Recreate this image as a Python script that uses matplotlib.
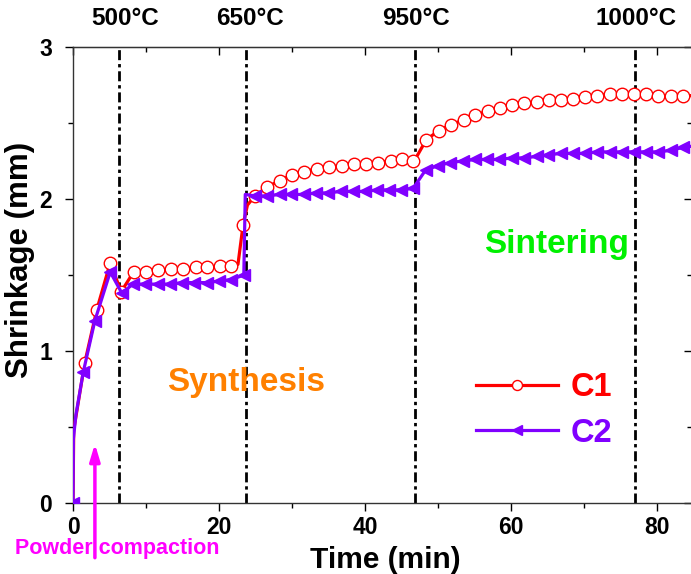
import matplotlib
matplotlib.use("Agg")
import matplotlib.pyplot as plt

plt.rcParams['font.family'] = ['Liberation Sans', 'DejaVu Sans']
plt.rcParams['font.weight'] = 'bold'

# ---- data ----
t_c1 = [0, 0.1, 1.6, 3.25, 5.1, 6.6, 8.3, 10.0, 11.7, 13.4, 15.1, 16.8, 18.4, 20.1, 21.7,
        22.6, 23.3, 23.9, 24.9, 26.6, 28.3, 30.0, 31.7, 33.4, 35.1, 36.8, 38.5, 40.1, 41.8,
        43.5, 45.1, 46.6, 47.1, 48.4, 50.1, 51.8, 53.5, 55.1, 56.8, 58.5, 60.2, 61.8, 63.5,
        65.2, 66.8, 68.5, 70.2, 71.8, 73.5, 75.2, 76.9, 78.5, 80.2, 81.9, 83.6, 85.2]
y_c1 = [0, 0.48, 0.92, 1.27, 1.58, 1.39, 1.52, 1.52, 1.53, 1.54, 1.54, 1.55, 1.55, 1.56, 1.56,
        1.57, 1.83, 1.96, 2.02, 2.08, 2.12, 2.16, 2.18, 2.20, 2.21, 2.22, 2.23, 2.23, 2.24,
        2.25, 2.26, 2.25, 2.28, 2.39, 2.45, 2.49, 2.52, 2.55, 2.58, 2.60, 2.62, 2.63, 2.64,
        2.65, 2.65, 2.66, 2.67, 2.68, 2.69, 2.69, 2.69, 2.69, 2.68, 2.68, 2.68, 2.68]
nomark_c1 = [0, 1, 15, 17, 32, 55]

t_c2 = [0, 0.05, 0.4, 1.4, 3.0, 5.1, 6.7, 8.2, 9.9, 11.6, 13.3, 15.0, 16.6, 18.3, 20.0, 21.7,
        23.4, 23.6, 25.0, 26.6, 28.3, 29.9, 31.6, 33.3, 35.0, 36.7, 38.3, 40.0, 41.7, 43.3,
        45.0, 46.6, 48.3, 50.0, 51.7, 53.4, 55.1, 56.7, 58.4, 60.1, 61.8, 63.5, 65.1, 66.8,
        68.5, 70.2, 71.8, 73.5, 75.2, 76.8, 78.5, 80.2, 81.9, 83.6, 85.2]
y_c2 = [0, 0.42, 0.58, 0.86, 1.20, 1.52, 1.38, 1.44, 1.44, 1.44, 1.44, 1.45, 1.45, 1.45, 1.46, 1.47,
        1.50, 2.03, 2.02, 2.02, 2.03, 2.03, 2.03, 2.04, 2.04, 2.05, 2.05, 2.05, 2.06, 2.06,
        2.06, 2.07, 2.19, 2.22, 2.24, 2.25, 2.26, 2.26, 2.26, 2.27, 2.27, 2.28, 2.29, 2.30,
        2.30, 2.30, 2.31, 2.31, 2.31, 2.31, 2.31, 2.31, 2.32, 2.34, 2.35]
nomark_c2 = [1, 2, 17, 54]

stage_times = [6.3, 23.7, 46.8, 77.0]
temp_labels = ["500°C", "650°C", "950°C", "1000°C"]
temp_label_x = [7.1, 24.3, 47.0, 77.1]

series_names = ["C1", "C2"]
c1_color = "#FF0000"
c2_color = "#8000FF"

# ---- figure ----
fig = plt.figure(figsize=(6.91, 5.74), dpi=100)
ax = fig.add_axes([73/691, 1 - 503/574, 619/691, (503 - 47)/574])

mk1 = [i for i in range(len(t_c1)) if i not in nomark_c1]
mk2 = [i for i in range(len(t_c2)) if i not in nomark_c2]

for xv in stage_times:
    ax.axvline(xv, color='black', lw=2.0, linestyle=(0, (3.6, 1.4, 1.2, 1.4)), zorder=1)

l1, = ax.plot(t_c1, y_c1, color=c1_color, lw=2.3, marker='o', markersize=9,
              markerfacecolor='white', markeredgecolor=c1_color, markeredgewidth=1.0,
              markevery=mk1, zorder=3)
l2, = ax.plot(t_c2, y_c2, color=c2_color, lw=2.3, marker='<', markersize=9,
              markerfacecolor=c2_color, markeredgecolor=c2_color,
              markevery=mk2, zorder=4)

ax.set_xlim(0, 84.8)
ax.set_ylim(0, 3)
ax.set_xticks([0, 20, 40, 60, 80])
ax.set_xticks([10, 30, 50, 70], minor=True)
ax.set_yticks([0, 1, 2, 3])
ax.set_yticks([0.5, 1.5, 2.5], minor=True)
ax.tick_params(which='both', direction='out', labelsize=16.5, width=1.0)
ax.tick_params(which='major', length=6)
ax.tick_params(which='minor', length=3.5)
ax.tick_params(axis='y', pad=9)
ax.tick_params(axis='x', pad=3)
for lab in ax.get_xticklabels() + ax.get_yticklabels():
    lab.set_fontweight('bold')
for s in ax.spines.values():
    s.set_linewidth(1.0)
    s.set_color('#333333')

sx = ax.secondary_xaxis('top')
sx.set_xticks([0, 20, 40, 60, 80])
sx.set_xticks([10, 30, 50, 70], minor=True)
sx.tick_params(which='both', direction='in', labeltop=False, width=1.0)
sx.tick_params(which='major', length=6)
sx.tick_params(which='minor', length=3.5)
sy = ax.secondary_yaxis('right')
sy.set_yticks([0, 1, 2, 3])
sy.set_yticks([0.5, 1.5, 2.5], minor=True)
sy.tick_params(which='both', direction='in', labelright=False, width=1.0)
sy.tick_params(which='major', length=6)
sy.tick_params(which='minor', length=3.5)

ax.set_xlabel("Time (min)", fontsize=21.5, fontweight='bold')
ax.set_ylabel("Shrinkage (mm)", fontsize=22.5, fontweight='bold')
ax.yaxis.set_label_coords(-0.062, 0.533)
ax.xaxis.set_label_coords(0.505, -0.095)

for lab, xv in zip(temp_labels, temp_label_x):
    ax.text(xv, 3.185, lab, ha='center', va='center', fontsize=17.5, fontweight='bold',
            clip_on=False)

ax.text(23.7, 0.79, "Synthesis", color='#FF8000', fontsize=24, fontweight='bold',
        ha='center', va='center')
ax.text(66.3, 1.70, "Sintering", color='#00F000', fontsize=24, fontweight='bold',
        ha='center', va='center')

ax.annotate('', xy=(3.0, 0.39), xytext=(3.0, -0.36), annotation_clip=False,
            arrowprops=dict(arrowstyle='-|>,head_length=1.0,head_width=0.3',
                            color='#FF00FF', lw=2.5, shrinkA=0, shrinkB=0))
ax.text(6.0, -0.297, "Powder compaction", color='#FF00FF', fontsize=15.5,
        fontweight='bold', ha='center', va='center', clip_on=False)

leg = ax.legend([l1, l2], series_names, loc='center', bbox_to_anchor=(0.761, 0.203),
                frameon=False, handlelength=2.5, handletextpad=0.4,
                labelspacing=0.45, markerscale=0.8, numpoints=1,
                prop={'weight': 'bold', 'size': 23.5})
for txt, col in zip(leg.get_texts(), [c1_color, c2_color]):
    txt.set_color(col)

fig.savefig("out.png", dpi=100)
